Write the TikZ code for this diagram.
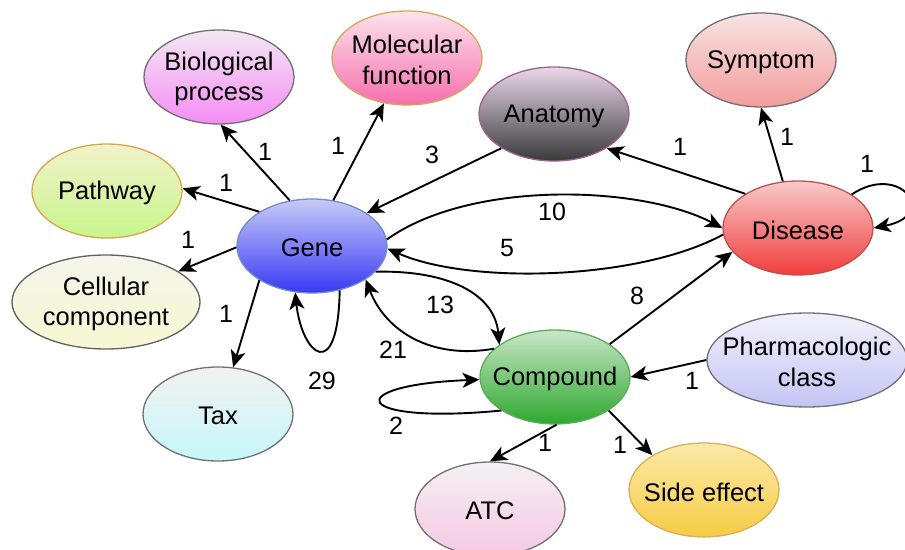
\documentclass[tikz,border=0pt]{standalone}
\usepackage{fontspec}
\setmainfont{Liberation Sans}
\usetikzlibrary{shapes.geometric,arrows.meta}
\tikzset{
  ent/.style={ellipse, minimum width=150pt, minimum height=94pt, inner sep=0pt, line width=1.3pt},
  lbl/.style={font=\fontsize{25.5}{30.5}\selectfont, align=center, inner sep=0pt, text=black, yshift=-2pt},
  el/.style={font=\fontsize{25}{29}\selectfont, inner sep=0pt},
  arr/.style={line width=1.9pt, -{Stealth[length=17pt,width=15pt,inset=4.5pt]}},
}
\begin{document}
\begin{tikzpicture}[x=1pt,y=-1pt]
\useasboundingbox (0,0) rectangle (905,549);
% entity ellipses
\node[ent, top color={rgb,255:red,243;green,232;blue,243}, bottom color={rgb,255:red,245;green,140;blue,245}, draw={rgb,255:red,112;green,112;blue,112}] (bp) at (219,77) {};
\node[ent, top color={rgb,255:red,251;green,227;blue,236}, bottom color={rgb,255:red,247;green,111;blue,174}, draw={rgb,255:red,212;green,168;blue,90}] (mf) at (407,58) {};
\node[ent, top color={rgb,255:red,248;green,228;blue,228}, bottom color={rgb,255:red,242;green,156;blue,156}, draw={rgb,255:red,112;green,112;blue,112}] (sym) at (761,60) {};
\node[ent, top color={rgb,255:red,234;green,215;blue,234}, bottom color={rgb,255:red,58;green,58;blue,58}, draw={rgb,255:red,160;green,96;blue,143}] (ana) at (554,114) {};
\node[ent, top color={rgb,255:red,242;green,242;blue,200}, bottom color={rgb,255:red,199;green,245;blue,140}, draw={rgb,255:red,215;green,165;blue,80}] (path) at (107,191) {};
\node[ent, top color={rgb,255:red,199;green,204;blue,248}, bottom color={rgb,255:red,56;green,56;blue,242}, draw={rgb,255:red,111;green,140;blue,200}] (gene) at (312,246) {};
\node[ent, top color={rgb,255:red,248;green,202;blue,202}, bottom color={rgb,255:red,240;green,60;blue,60}, draw={rgb,255:red,192;green,80;blue,80}] (dis) at (798,228) {};
\node[ent, minimum width=188pt, top color={rgb,255:red,245;green,245;blue,234}, bottom color={rgb,255:red,247;green,247;blue,210}, draw={rgb,255:red,96;green,96;blue,96}] (cc) at (106,302) {};
\node[ent, top color={rgb,255:red,200;green,230;blue,200}, bottom color={rgb,255:red,46;green,168;blue,46}, draw={rgb,255:red,93;green,170;blue,93}] (cpd) at (555,377) {};
\node[ent, minimum width=200pt, top color={rgb,255:red,241;green,241;blue,250}, bottom color={rgb,255:red,196;green,196;blue,246}, draw={rgb,255:red,112;green,112;blue,112}] (pc) at (807,360) {};
\node[ent, top color={rgb,255:red,241;green,241;blue,241}, bottom color={rgb,255:red,198;green,247;blue,249}, draw={rgb,255:red,112;green,112;blue,112}] (tax) at (218,414) {};
\node[ent, top color={rgb,255:red,243;green,240;blue,242}, bottom color={rgb,255:red,246;green,200;blue,228}, draw={rgb,255:red,112;green,112;blue,112}] (atc) at (490,509) {};
\node[ent, top color={rgb,255:red,250;green,234;blue,168}, bottom color={rgb,255:red,248;green,203;blue,69}, draw={rgb,255:red,216;green,177;blue,85}] (se) at (704,490) {};
% entity texts
\node[lbl] (bpT) at (bp) {Biological\\process};
\node[lbl] (mfT) at (mf) {Molecular\\function};
\node[lbl] (symT) at (sym) {Symptom};
\node[lbl] (anaT) at (ana) {Anatomy};
\node[lbl] (pathT) at (path) {Pathway};
\node[lbl] (geneT) at (gene) {Gene};
\node[lbl] (disT) at (dis) {Disease};
\node[lbl] (ccT) at (cc) {Cellular\\component};
\node[lbl] (cpdT) at (cpd) {Compound};
\node[lbl] (pcT) at (pc) {Pharmacologic\\class};
\node[lbl] (taxT) at (tax) {Tax};
\node[lbl] (atcT) at (atc) {ATC};
\node[lbl] (seT) at (se) {Side effect};
% connectors
\draw[arr] (gene.116) -- (bp.272);
\draw[arr] (gene.65) -- (mf.243);
\draw[arr] (gene.147) -- (path.2);
\draw[arr] (gene.181) -- (cc.23);
\draw[arr] (gene.213) -- (tax.72);
\draw[arr] (gene.302) .. controls (338,385) and (302,355) .. (gene.250);
\draw[arr] (ana.213) -- (gene.31);
\draw[arr] (gene.5) .. controls (470,180) and (640,185) .. (dis.180);
\draw[arr] (dis.185) .. controls (640,280) and (470,285) .. (gene.-2);
\draw[arr] (gene.-22) .. controls (450,270) and (495,295) .. (cpd.150);
\draw[arr] (cpd.155) .. controls (430,360) and (385,330) .. (gene.-32);
\draw[arr] (cpd.212) .. controls (350,425) and (340,385) .. (cpd.182);
\draw[arr] (cpd.31) -- (dis.200);
\draw[arr] (pc.180) -- (cpd.0);
\draw[arr] (cpd.272) -- (atc.90);
\draw[arr] (cpd.-32) -- (se.146);
\draw[arr] (dis.147) -- (ana.-33);
\draw[arr] (dis.108) -- (sym.270);
\draw[arr] (dis.32) .. controls (900,162) and (940,215) .. (dis.0);
% connector labels
\node[el] (l1) at (265,152) {1};
\node[el] (l2) at (338,146) {1};
\node[el] (l3) at (226,183) {1};
\node[el] (l4) at (188,240) {1};
\node[el] (l5) at (226,314) {1};
\node[el] (l6) at (322,381) {29};
\node[el] (l7) at (432,155) {3};
\node[el] (l8) at (552,212) {10};
\node[el] (l9) at (507,248) {5};
\node[el] (l10) at (440,305) {13};
\node[el] (l11) at (393,350) {21};
\node[el] (l12) at (396,426) {2};
\node[el] (l13) at (637,296) {8};
\node[el] (l14) at (692,381) {1};
\node[el] (l15) at (545,443) {1};
\node[el] (l16) at (620,445) {1};
\node[el] (l17) at (680,147) {1};
\node[el] (l18) at (787,137) {1};
\node[el] (l19) at (867,164) {1};
\end{tikzpicture}
\end{document}
